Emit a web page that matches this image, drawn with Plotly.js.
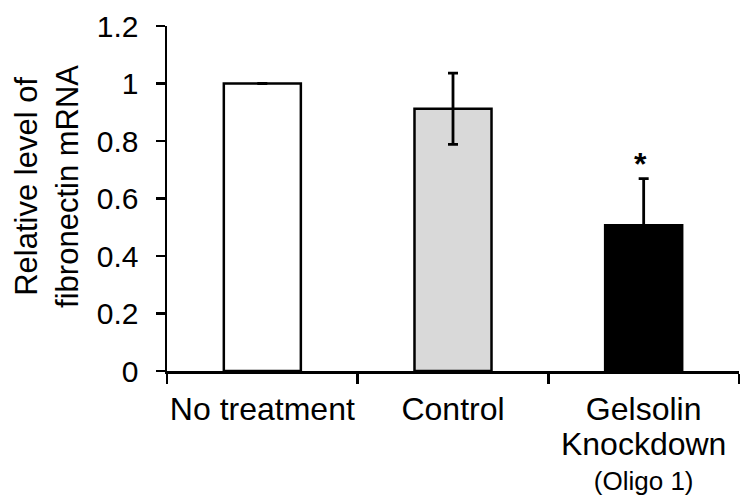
<!DOCTYPE html>
<html>
<head>
<meta charset="utf-8">
<script src="https://cdn.plot.ly/plotly-3.0.1.min.js"></script>
<style>html,body{margin:0;padding:0;background:#fff;}#chart{width:741px;height:503px;}</style>
</head>
<body>
<div id="chart"></div>
<script>
const categories = ["No treatment", "Control", "Gelsolin Knockdown (Oligo 1)"];
const tickLabels = [
  "<span style='font-size:32px'>No treatment</span>",
  "<span style='font-size:32px'>Control</span>",
  "<span style='font-size:32px'>Gelsolin</span><br><span style='font-size:32px'>Knockdown</span><br><span style='font-size:26px'>(Oligo 1)</span>"
];
const values = [1.0, 0.912, 0.507];
const errors = [0, 0.124, 0.162];
const barColors = ["#ffffff", "#d9d9d9", "#000000"];
const yTickVals = [0, 0.2, 0.4, 0.6, 0.8, 1.0, 1.2];
const yTickText = ["0", "0.2", "0.4", "0.6", "0.8", "1", "1.2"];
const yTitle = "Relative level of<br>fibronectin mRNA";
const sigMark = "*";

const font = "Liberation Sans, Arial, sans-serif";

const trace = {
  type: "bar",
  x: categories,
  y: values,
  marker: {color: barColors, line: {color: "#000", width: 2.5}},
  error_y: {type: "data", array: errors.map(e => e > 0 ? e : null), visible: true, color: "#000", thickness: 2.8, width: 5},
  hoverinfo: "none"
};

const layout = {
  width: 741, height: 503,
  margin: {l: 166.5, r: 2, t: 26, b: 132.3},
  paper_bgcolor: "#fff", plot_bgcolor: "#fff",
  showlegend: false,
  bargap: 0.596,
  font: {family: font, color: "#000", size: 30},
  xaxis: {
    type: "category",
    tickvals: categories, ticktext: tickLabels,
    showline: true, linecolor: "#000", linewidth: 2.5,
    ticks: "outside", ticklen: 10, tickwidth: 2.5, tickcolor: "#000",
    tickson: "boundaries", tickangle: 0, automargin: false,
    ticklabelstandoff: 14,
    tickfont: {size: 27, family: font, color: "#000"},
    showgrid: false, zeroline: false, fixedrange: true
  },
  yaxis: {
    range: [0, 1.2],
    tickvals: yTickVals, ticktext: yTickText,
    showline: true, linecolor: "#000", linewidth: 2.5,
    ticks: "outside", ticklen: 9, tickwidth: 2.5, tickcolor: "#000",
    ticklabelstandoff: 11, automargin: false,
    tickfont: {size: 30, family: font, color: "#000"},
    showgrid: false, zeroline: false, fixedrange: true
  },
  annotations: [
    {
      text: yTitle, textangle: -90, xref: "paper", yref: "paper",
      x: -0.2096, y: 0.534, xanchor: "center", yanchor: "middle",
      showarrow: false, font: {size: 31, family: font, color: "#000"}
    },
    {
      text: "<b>" + sigMark + "</b>", xref: "x", yref: "y",
      x: categories[2], y: values[2] + errors[2], yanchor: "bottom", xanchor: "center",
      xshift: -3, yshift: -5,
      showarrow: false, font: {size: 32, family: font, color: "#000"}
    }
  ]
};

Plotly.newPlot("chart", [trace], layout, {staticPlot: true, displayModeBar: false});
</script>
</body>
</html>
